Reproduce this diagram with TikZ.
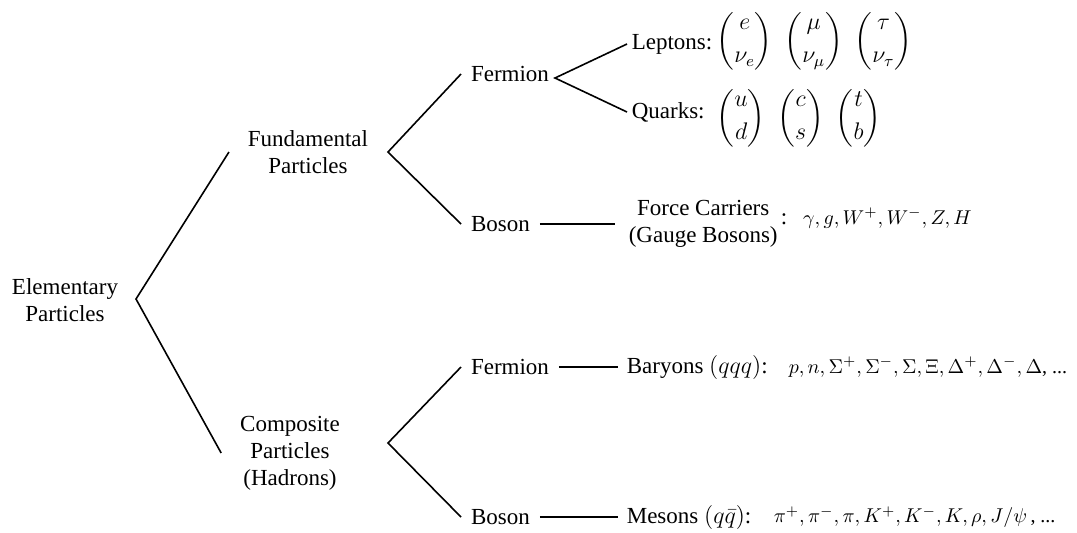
\documentclass[tikz,border=0pt]{standalone}
\usepackage{amsmath}
\usepackage{fontspec}
\setmainfont{Liberation Serif}
\usetikzlibrary{positioning}

\begin{document}
\begin{tikzpicture}[x=0.5pt,y=-0.5pt,line width=0.8pt,
    every node/.style={font=\fontsize{11.5}{13.5}\selectfont},
    lvl/.style={align=center,inner sep=3pt,outer sep=6.5pt},
    kind/.style={anchor=west,inner sep=0pt,outer sep=5pt},
    fam/.style={anchor=west,inner sep=2pt},
    list/.style={anchor=west,inner sep=0pt},
    small/.style={font=\fontsize{10}{12}\selectfont}]
    \useasboundingbox (0,0) rectangle (1077,532);
    % tree levels
    \node[lvl] (elem) at (65,300) {Elementary\\Particles};
    \node[lvl] (fund) at (308,152) {Fundamental\\Particles};
    \node[lvl] (comp) at (290,453) {Composite\\Particles\\(Hadrons)};
    \foreach \n/\y/\t in {ferm1/74/Fermion,bos1/224/Boson,ferm2/367/Fermion,bos2/517/Boson}
      \node[kind] (\n) at (461,\y) {\t};
    \coordinate (v0) at (136,299);
    \coordinate (v1) at (388,152);
    \coordinate (v2) at (388,443);
    \coordinate (v3) at (555,78);
    \draw (fund.west) -- (v0) -- (comp.west);
    \draw (ferm1.west) -- (v1) -- (bos1.west);
    \draw (ferm2.west) -- (v2) -- (bos2.west);
    % fermions
    \node[fam] (lept) at (627,44) {Leptons:};
    \node[fam] (quark) at (627,112) {Quarks:};
    \draw (lept.west) -- (v3) -- (quark.west);
    \node[list] (lmat) at (716,41) {$\begin{pmatrix} e\\[3pt] \nu_e \end{pmatrix}\hspace{4pt}
      \begin{pmatrix} \mu\\[3pt] \nu_\mu \end{pmatrix}\hspace{4pt}
      \begin{pmatrix} \tau\\[3pt] \nu_\tau \end{pmatrix}$};
    \node[list] (qmat) at (716,118) {$\begin{pmatrix} u\\[3pt] d \end{pmatrix}\hspace{4pt}
      \begin{pmatrix} c\\[3pt] s \end{pmatrix}\hspace{4pt}
      \begin{pmatrix} t\\[3pt] b \end{pmatrix}$};
    % bosons
    \node[anchor=west,align=center,inner sep=6.5pt] (carr) at (615,224) {Force Carriers\\(Gauge Bosons)};
    \draw (bos1.east) -- (carr.west);
    \node[list] (glist) at (780,218) {:\hspace{8pt}{\fontsize{10}{12}\selectfont$\gamma, g, W^+, W^-, Z, H$}};
    % hadrons
    \node[fam,inner sep=4pt] (bary) at (618,367) {Baryons $(qqq)$:};
    \node[fam,inner sep=4pt] (meso) at (618,517) {Mesons $(q\bar{q})$:};
    \draw (ferm2.east) -- (bary.west);
    \draw (bos2.east) -- (meso.west);
    \node[list,small] (blist) at (788,367) {$p, n, \Sigma^+, \Sigma^-, \Sigma, \Xi, \Delta^+, \Delta^-, \Delta$, ...};
    \node[list,small] (mlist) at (773,517) {$\pi^+, \pi^-, \pi, K^+, K^-, K, \rho, J/\psi$\,, ...};
\end{tikzpicture}
\end{document}
